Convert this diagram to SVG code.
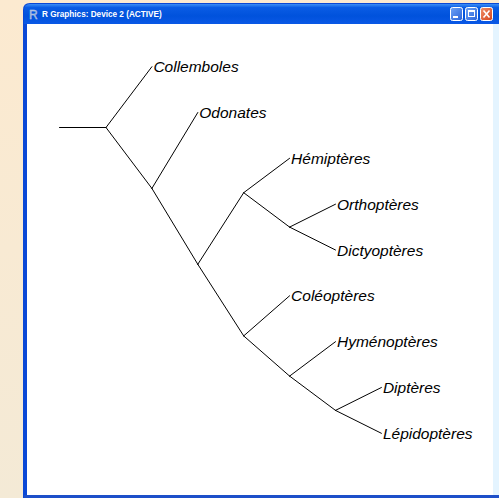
<svg xmlns="http://www.w3.org/2000/svg" width="499" height="498" viewBox="0 0 499 498">
  <style>
    .edge { stroke: #000; stroke-width: 1; fill: none; stroke-linecap: round; }
    .tip { font-family: "Liberation Sans", Arial, sans-serif; font-style: italic; font-size: 15.5px; fill: #000; }
    .title { font-family: "Liberation Sans", Arial, sans-serif; font-weight: bold; font-size: 8.2px; fill: #fff; }
    .btn { stroke: #fff; stroke-width: 1; }
  </style>
  <defs>
    <linearGradient id="desk" x1="0" y1="0" x2="0" y2="1">
      <stop offset="0" stop-color="#FCEAD0"/>
      <stop offset="1" stop-color="#F4EAD6"/>
    </linearGradient>
    <linearGradient id="titlebar" x1="0" y1="0" x2="0" y2="1">
      <stop offset="0" stop-color="#3C8EF6"/>
      <stop offset="0.18" stop-color="#0A5CE4"/>
      <stop offset="0.6" stop-color="#0052DC"/>
      <stop offset="1" stop-color="#0A58E6"/>
    </linearGradient>
    <linearGradient id="btnBlue" x1="0" y1="0" x2="1" y2="1">
      <stop offset="0" stop-color="#6FA3F6"/>
      <stop offset="1" stop-color="#2A63D8"/>
    </linearGradient>
    <linearGradient id="btnRed" x1="0" y1="0" x2="1" y2="1">
      <stop offset="0" stop-color="#F0906A"/>
      <stop offset="1" stop-color="#D5431C"/>
    </linearGradient>
  </defs>

  <!-- desktop behind the window -->
  <rect x="0" y="0" width="499" height="498" fill="url(#desk)"/>

  <!-- window frame and title bar -->
  <g id="window">
    <path d="M23,498 V10 Q23,3 30,3 H499 V498 Z" fill="#0A48D6"/>
    <path d="M24,24 V10 Q24,4 30,4 H499 V24 Z" fill="url(#titlebar)"/>
    <rect x="27" y="24" width="472" height="471" fill="#ffffff"/>
    <rect x="493" y="24" width="6" height="471" fill="#E4F4FF"/>
    <rect x="24" y="495" width="475" height="3" fill="#1D4FC9"/>
    <text x="29" y="19" font-family="Liberation Sans, Arial, sans-serif" font-size="12" fill="#8FA6CF" stroke="#C9D6EC" stroke-width="0.4">R</text>
    <text class="title" x="42" y="16.5">R Graphics: Device 2 (ACTIVE)</text>
    <!-- minimise / maximise / close buttons -->
    <rect class="btn" x="450.5" y="7.5" width="12" height="13" rx="2" fill="url(#btnBlue)"/>
    <rect x="453" y="16" width="5" height="2" fill="#fff"/>
    <rect class="btn" x="465.5" y="7.5" width="12" height="13" rx="2" fill="url(#btnBlue)"/>
    <rect x="468.5" y="10.5" width="6" height="6" fill="none" stroke="#fff" stroke-width="1"/>
    <rect x="468.5" y="10" width="6" height="2" fill="#fff"/>
    <rect class="btn" x="480.5" y="7.5" width="12" height="13" rx="2" fill="url(#btnRed)"/>
    <path d="M483.5,10.5 L489.5,17.5 M489.5,10.5 L483.5,17.5" stroke="#fff" stroke-width="1.6"/>
  </g>

  <!-- tree branches -->
  <g id="connectors">
    <line class="edge" x1="59.5" y1="127.5" x2="106" y2="127.5"/>
    <line class="edge" x1="106" y1="127.5" x2="151.9" y2="66.7"/>
    <line class="edge" x1="106" y1="127.5" x2="151.9" y2="188.4"/>
    <line class="edge" x1="151.9" y1="188.4" x2="197.8" y2="112.5"/>
    <line class="edge" x1="151.9" y1="188.4" x2="197.8" y2="264.3"/>
    <line class="edge" x1="197.8" y1="264.3" x2="243.7" y2="192.7"/>
    <line class="edge" x1="243.7" y1="192.7" x2="289.6" y2="158.3"/>
    <line class="edge" x1="243.7" y1="192.7" x2="289.6" y2="227.1"/>
    <line class="edge" x1="289.6" y1="227.1" x2="335.5" y2="204.2"/>
    <line class="edge" x1="289.6" y1="227.1" x2="335.5" y2="250"/>
    <line class="edge" x1="197.8" y1="264.3" x2="243.7" y2="335.9"/>
    <line class="edge" x1="243.7" y1="335.9" x2="289.6" y2="295.8"/>
    <line class="edge" x1="243.7" y1="335.9" x2="289.6" y2="376.1"/>
    <line class="edge" x1="289.6" y1="376.1" x2="335.5" y2="341.7"/>
    <line class="edge" x1="289.6" y1="376.1" x2="335.5" y2="410.4"/>
    <line class="edge" x1="335.5" y1="410.4" x2="381.4" y2="387.5"/>
    <line class="edge" x1="335.5" y1="410.4" x2="381.4" y2="433.3"/>
  </g>

  <!-- tip labels -->
  <g id="collemboles"><text class="tip" x="153.4" y="72.3">Collemboles</text></g>
  <g id="odonates"><text class="tip" x="199.3" y="118">Odonates</text></g>
  <g id="hemipteres"><text class="tip" x="291.1" y="163.8">Hémiptères</text></g>
  <g id="orthopteres"><text class="tip" x="337" y="209.7">Orthoptères</text></g>
  <g id="dictyopteres"><text class="tip" x="337" y="255.5">Dictyoptères</text></g>
  <g id="coleopteres"><text class="tip" x="291.1" y="301.3">Coléoptères</text></g>
  <g id="hymenopteres"><text class="tip" x="337" y="347.2">Hyménoptères</text></g>
  <g id="dipteres"><text class="tip" x="382.9" y="393">Diptères</text></g>
  <g id="lepidopteres"><text class="tip" x="382.9" y="438.8">Lépidoptères</text></g>
</svg>
